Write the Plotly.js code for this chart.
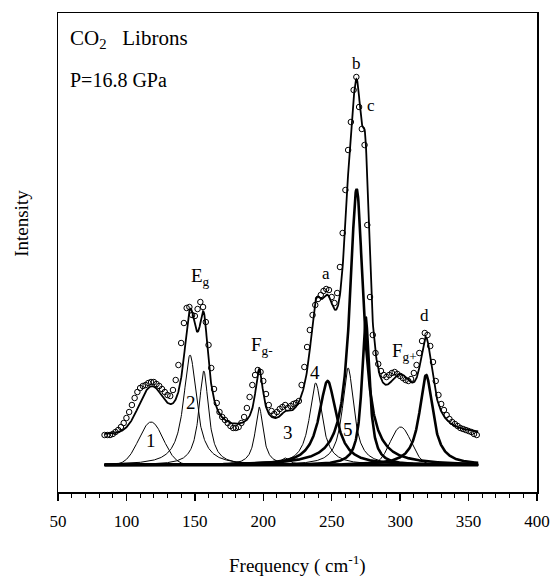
<!DOCTYPE html>
<html>
<head>
<meta charset="utf-8">
<script src="https://cdn.plot.ly/plotly-3.0.1.min.js"></script>
<style>html,body{margin:0;padding:0;background:#fff;}#chart{width:557px;height:587px;}</style>
</head>
<body>
<div id="chart"></div>
<script>
// Observed spectrum (open circles), intensity in arbitrary units above the fit baseline
const obsFreq = [84,86,88,90,92,94,96,98,100,102,104,106,108,110,112,114,116,118,120,122,124,126,128,130,132,134,136,138,140,142,144,146,148,150,152,154,156,158,160,162,164,166,168,170,172,174,176,178,180,182,184,186,188,190,192,194,196,198,200,202,204,206,208,210,212,214,216,218,220,222,224,226,228,230,232,234,236,238,240,242,244,246,248,250,252,254,256,258,260,262,264,266,268,270,272,274,276,278,280,282,284,286,288,290,292,294,296,298,300,302,304,306,308,310,312,314,316,318,320,322,324,326,328,330,332,334,336,338,340,342,344,346,348,350,352,354,356];
const obsInt = [30,30,30,31,33,35,38,42,47,53,60,67,73,77,79,80,82,83,83,81,79,76,73,70,69,75,85,100,122,142,157,158,150,149,156,163,158,143,120,97,76,62,53,48,45,42,39,37,37,38,42,48,57,68,80,90,95,93,84,71,60,54,51,53,56,58,60,57,59,61,62,64,80,98,118,135,150,160,166,170,174,176,175,168,162,172,198,232,275,315,343,375,388,358,336,320,240,168,130,112,101,94,90,88,90,92,93,91,89,87,85,84,86,92,100,112,124,132,130,119,103,84,70,61,55,50,46,43,41,39,37,36,35,34,33,31,30];

// Fitted components
const peakLabel  = ['1','2','','Fg-','3','4','','5','b','c','Fg+','d'];
const peakCenter = [118,146.5,156.5,197,216,238.3,247,262,268.2,274.8,300.4,319];
const peakHeight = [43,110,94,58,7,82,84,97,276,148,38,90];
const peakFWHM   = [21,11.5,8.5,7,8,11,15,10,12,6.5,18,11.7];
const peakShape  = ['G','L','L','L','L','L','L','L','L','L','G','L'];
const peakBold   = [false,false,false,false,false,false,true,false,true,true,false,true];
const background = 29;
const fitRange = [84,357];

function comp(i, x){
  const c = peakCenter[i], h = peakHeight[i], w = peakFWHM[i];
  if (peakShape[i] === 'G') return h*Math.exp(-4*Math.LN2*(x-c)*(x-c)/(w*w));
  const t = (x-c)/(w/2);
  return h/(1+t*t);
}
const grid = [];
for (let x = fitRange[0]; x <= fitRange[1]+1e-9; x += 0.25) grid.push(x);

const traces = [];
traces.push({x: fitRange, y: [0,0], mode:'lines', line:{color:'#000', width:3}, hoverinfo:'skip', showlegend:false});
for (let i = 0; i < peakCenter.length; i++){
  traces.push({x: grid, y: grid.map(x=>comp(i,x)), mode:'lines',
    line:{color:'#000', width: peakBold[i]?2.6:1}, hoverinfo:'skip', showlegend:false});
}
traces.push({x: obsFreq, y: obsInt, mode:'markers',
  marker:{symbol:'circle-open', size:5.5, color:'#000', line:{width:1, color:'#000'}}, showlegend:false});
traces.push({x: grid, y: grid.map(x=>{let s=background; for(let i=0;i<peakCenter.length;i++) s+=comp(i,x); return s;}),
  mode:'lines', line:{color:'#000', width:1.8}, showlegend:false});

const F = 'Liberation Serif';
function ann(x,y,text,size){
  return {x:x,y:y,xref:'x',yref:'y',text:text,showarrow:false,font:{family:F,size:size,color:'#000'},xanchor:'center',yanchor:'middle'};
}
const annotations = [
  {x:0.02,y:0.945,xref:'paper',yref:'paper',text:'CO<sub>2</sub>   Librons',showarrow:false,xanchor:'left',yanchor:'middle',font:{family:F,size:21,color:'#000'}},
  {x:0.02,y:0.86,xref:'paper',yref:'paper',text:'P=16.8 GPa',showarrow:false,xanchor:'left',yanchor:'middle',font:{family:F,size:20,color:'#000'}},
  ann(154,188,'E<sub>g</sub>',19),
  ann(199,119,'F<sub>g-</sub>',19),
  ann(246,192,'a',17),
  ann(268,402,'b',17),
  ann(278.5,360,'c',17),
  ann(318,150,'d',17),
  ann(303,113,'F<sub>g+</sub>',19),
  ann(118,25,'1',19),
  ann(147.5,63,'2',19),
  ann(218,33,'3',19),
  ann(238,93,'4',19),
  ann(262,36,'5',19),
  {x:-0.075,y:0.56,xref:'paper',yref:'paper',text:'Intensity',textangle:-90,showarrow:false,xanchor:'center',yanchor:'middle',font:{family:F,size:19,color:'#000'}},
  {x:0.5,y:-0.152,xref:'paper',yref:'paper',text:'Frequency ( cm<sup>-1</sup>)',showarrow:false,xanchor:'center',yanchor:'middle',font:{family:F,size:19,color:'#000'}}
];

const layout = {
  width:557, height:587,
  margin:{l:58,r:20,t:13,b:95},
  paper_bgcolor:'#fff', plot_bgcolor:'#fff',
  font:{family:F,color:'#000'},
  xaxis:{range:[50,400], tick0:50, dtick:50, ticks:'outside', ticklen:7, tickwidth:1.5, tickcolor:'#000',
    showline:true, linecolor:'#000', linewidth:1.5, mirror:true, showgrid:false, zeroline:false,
    ticklabelstandoff:6,
    tickfont:{family:F,size:17,color:'#000'},
    minor:{dtick:10, ticks:'outside', ticklen:4, tickwidth:1, tickcolor:'#000', showgrid:false}},
  yaxis:{range:[-27,452], showticklabels:false, ticks:'', showline:true, linecolor:'#000', linewidth:1.5,
    mirror:true, showgrid:false, zeroline:false},
  annotations:annotations,
  showlegend:false
};
Plotly.newPlot('chart', traces, layout, {staticPlot:true, displayModeBar:false});
</script>
</body>
</html>
